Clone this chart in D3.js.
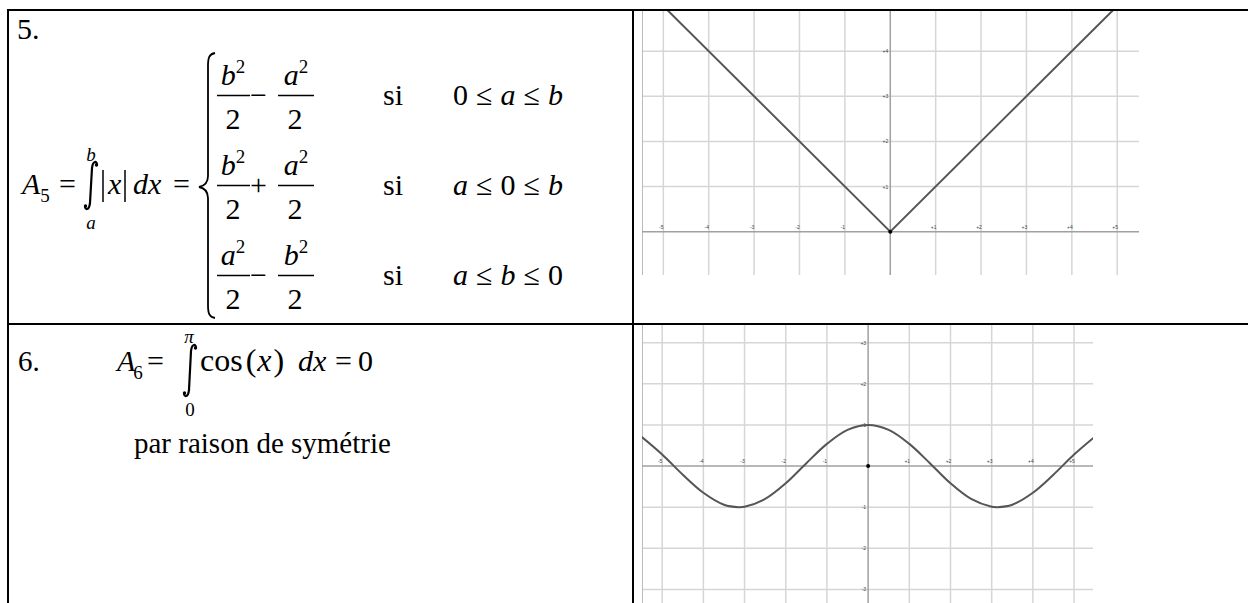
<!DOCTYPE html>
<html>
<head>
<meta charset="utf-8">
<script src="https://cdn.jsdelivr.net/npm/d3@7"></script>
<style>
  body { margin: 0; background: #fff; }
  text { font-family: "Liberation Serif", "Times New Roman", serif; fill: #000; }
  .it { font-style: italic; }
  .tick { font-family: "Liberation Sans", Arial, sans-serif; font-size: 5px; fill: #444; }
</style>
</head>
<body>
<div id="page"></div>
<script>
// ---- data ----
// cases of the piecewise formula (row 5)
let arrCaseNumA = ["b", "b", "a"];
let arrCaseNumB = ["a", "a", "b"];
let arrCaseOp = ["\u2212", "+", "\u2212"];
let arrCaseCond = [["0", "\u2264", "a", "\u2264", "b"], ["a", "\u2264", "0", "\u2264", "b"], ["a", "\u2264", "b", "\u2264", "0"]];

// graph 1 : y = |x|
let arrAbsX = [-5.5, 0, 5.5];
let arrAbsY = [5.5, 0, 5.5];
let arrAbsXTicks = [-5, -4, -3, -2, -1, 1, 2, 3, 4, 5];
let arrAbsYTicks = [1, 2, 3, 4];

// graph 2 : y = cos(x)
let arrCosX = [-5.5, -5, -4.5, -4, -3.5, -3.14, -3, -2.5, -2, -1.5, -1, -0.5, 0, 0.5, 1, 1.5, 2, 2.5, 3, 3.14, 3.5, 4, 4.5, 5, 5.5];
let arrCosY = [0.71, 0.28, -0.21, -0.65, -0.94, -1.0, -0.99, -0.8, -0.42, 0.07, 0.54, 0.88, 1.0, 0.88, 0.54, 0.07, -0.42, -0.8, -0.99, -1.0, -0.94, -0.65, -0.21, 0.28, 0.71];
let arrCosXTicks = [-5, -4, -3, -2, -1, 1, 2, 3, 4, 5];
let arrCosYTicks = [-3, -2, -1, 1, 2, 3];

// ---- page ----
let intTotalWid = 1248;
let intTotalHgt = 603;

let svg = d3.select("#page")
  .append("svg")
  .attr("width", intTotalWid)
  .attr("height", intTotalHgt);

svg.append("rect").attr("width", intTotalWid).attr("height", intTotalHgt).attr("fill", "#fff");

// helper : integral sign drawn as a path
function fnIntegral(g, cx, top, bot) {
  g.append("path")
    .attr("d", `M${cx + 6},${top + 4} C${cx + 6},${top} ${cx + 2},${top - 1} ${cx + 1},${top + 7} L${cx - 1},${bot - 7} C${cx - 2},${bot + 1} ${cx - 6},${bot} ${cx - 6},${bot - 4}`)
    .attr("fill", "none").attr("stroke", "#000").attr("stroke-width", 2.2);
  g.append("circle").attr("cx", cx + 5.5).attr("cy", top + 4).attr("r", 1.7);
  g.append("circle").attr("cx", cx - 5.5).attr("cy", bot - 4).attr("r", 1.7);
}

// helper : a letter with a superscript 2
function fnSquare(g, x, y, letter) {
  let t = g.append("text").attr("x", x).attr("y", y).attr("text-anchor", "middle").attr("font-size", 30);
  t.append("tspan").attr("class", "it").text(letter);
  t.append("tspan").attr("font-size", 19).attr("dy", -12).text("2");
}

// 1) left column, row 5
let gL = svg.append("g");
gL.append("text").attr("x", 17).attr("y", 39).attr("font-size", 30).text("5.");

let tA5 = gL.append("text").attr("x", 22).attr("y", 194).attr("font-size", 30);
tA5.append("tspan").attr("class", "it").text("A");
tA5.append("tspan").attr("font-size", 19).attr("dy", 8).attr("dx", 0).text("5");
gL.append("text").attr("x", 59).attr("y", 194).attr("font-size", 30).text("=");

fnIntegral(gL, 91, 161, 210);
gL.append("text").attr("class", "it").attr("x", 91).attr("y", 161).attr("font-size", 19).attr("text-anchor", "middle").text("b");
gL.append("text").attr("class", "it").attr("x", 91).attr("y", 229).attr("font-size", 19).attr("text-anchor", "middle").text("a");

gL.append("line").attr("x1", 103).attr("x2", 103).attr("y1", 170).attr("y2", 202).attr("stroke", "#000").attr("stroke-width", 1.5);
gL.append("line").attr("x1", 125).attr("x2", 125).attr("y1", 170).attr("y2", 202).attr("stroke", "#000").attr("stroke-width", 1.5);
gL.append("text").attr("class", "it").attr("x", 108).attr("y", 194).attr("font-size", 30).text("x");
gL.append("text").attr("class", "it").attr("x", 133).attr("y", 194).attr("font-size", 30).text("dx");
gL.append("text").attr("x", 173).attr("y", 194).attr("font-size", 30).text("=");

// brace
gL.append("path")
  .attr("d", "M215,53 C209,54 208,58 208,66 L208,176 C208,183 204,186 199,187 C204,188 208,191 208,198 L208,305 C208,313 209,317 215,318")
  .attr("fill", "none").attr("stroke", "#000").attr("stroke-width", 1.8);

// cases
let fnRowY = d3.scalePoint().domain(d3.range(arrCaseOp.length)).range([95.5, 275.5]);
arrCaseOp.forEach((op, i) => {
  let yBar = fnRowY(i);
  fnSquare(gL, 233, yBar - 10.5, arrCaseNumA[i]);
  fnSquare(gL, 296, yBar - 10.5, arrCaseNumB[i]);
  gL.append("line").attr("x1", 217).attr("x2", 250).attr("y1", yBar).attr("y2", yBar).attr("stroke", "#000").attr("stroke-width", 1.5);
  gL.append("line").attr("x1", 278).attr("x2", 314).attr("y1", yBar).attr("y2", yBar).attr("stroke", "#000").attr("stroke-width", 1.5);
  gL.append("text").attr("x", 233).attr("y", yBar + 33).attr("font-size", 30).attr("text-anchor", "middle").text("2");
  gL.append("text").attr("x", 295).attr("y", yBar + 33).attr("font-size", 30).attr("text-anchor", "middle").text("2");
  gL.append("text").attr("x", 258.5).attr("y", yBar + 9).attr("font-size", 30).attr("text-anchor", "middle").text(op);
  gL.append("text").attr("x", 383).attr("y", yBar + 9).attr("font-size", 30).text("si");
  let tc = gL.append("text").attr("x", 453).attr("y", yBar + 9).attr("font-size", 30);
  arrCaseCond[i].forEach((s, k) => {
    tc.append("tspan")
      .attr("class", /[ab]/.test(s) ? "it" : null)
      .attr("dx", k ? 8 : 0)
      .text(s);
  });
});

// 2) left column, row 6
let intRow6 = 371;
gL.append("text").attr("x", 18).attr("y", intRow6).attr("font-size", 29).text("6.");
let tA6 = gL.append("text").attr("x", 117).attr("y", intRow6).attr("font-size", 30);
tA6.append("tspan").attr("class", "it").text("A");
tA6.append("tspan").attr("font-size", 19).attr("dy", 8).attr("dx", -2).text("6");
gL.append("text").attr("x", 147).attr("y", intRow6).attr("font-size", 30).text("=");
fnIntegral(gL, 190, 344, 397);
gL.append("text").attr("class", "it").attr("x", 189).attr("y", 343).attr("font-size", 19).attr("text-anchor", "middle").text("\u03c0");
gL.append("text").attr("x", 190).attr("y", 416).attr("font-size", 19).attr("text-anchor", "middle").text("0");
let tCos = gL.append("text").attr("x", 200).attr("y", intRow6).attr("font-size", 32);
tCos.append("tspan").text("cos");
tCos.append("tspan").attr("dx", 3).text("(");
tCos.append("tspan").attr("class", "it").attr("dx", 1).text("x");
tCos.append("tspan").attr("dx", 2).text(")");
gL.append("text").attr("class", "it").attr("x", 298).attr("y", intRow6).attr("font-size", 30).text("dx");
gL.append("text").attr("x", 335).attr("y", intRow6).attr("font-size", 30).text("=");
gL.append("text").attr("x", 358).attr("y", intRow6).attr("font-size", 30).text("0");
gL.append("text").attr("x", 134).attr("y", 453).attr("font-size", 29).text("par raison de symétrie");

// 3) graph helper
function fnGraph(id, x0, x1, y0, y1, xDom, yDom, xTicks, yTicks, xs, ys, curve) {
  let fnX = d3.scaleLinear().domain(xDom).range([x0, x1]);
  let fnY = d3.scaleLinear().domain(yDom).range([y1, y0]);
  svg.append("clipPath").attr("id", id).append("rect")
    .attr("x", x0).attr("y", y0).attr("width", x1 - x0).attr("height", y1 - y0);
  let g = svg.append("g").attr("clip-path", `url(#${id})`);

  // grid
  g.selectAll(".vgrid").data(xTicks).enter().append("line")
    .attr("x1", d => fnX(d)).attr("x2", d => fnX(d)).attr("y1", y0).attr("y2", y1)
    .attr("stroke", "#d6d6d6").attr("stroke-width", 1.5);
  g.selectAll(".hgrid").data(yTicks).enter().append("line")
    .attr("x1", x0).attr("x2", x1).attr("y1", d => fnY(d)).attr("y2", d => fnY(d))
    .attr("stroke", "#d6d6d6").attr("stroke-width", 1.5);
  // left edge of the picture
  g.append("line").attr("x1", x0 + 0.5).attr("x2", x0 + 0.5).attr("y1", y0).attr("y2", y1)
    .attr("stroke", "#bbb").attr("stroke-width", 1);

  // axes
  g.append("line").attr("x1", x0).attr("x2", x1).attr("y1", fnY(0)).attr("y2", fnY(0))
    .attr("stroke", "#a0a0a0").attr("stroke-width", 1.5);
  g.append("line").attr("x1", fnX(0)).attr("x2", fnX(0)).attr("y1", y0).attr("y2", y1)
    .attr("stroke", "#a0a0a0").attr("stroke-width", 1.5);

  // tick labels
  g.selectAll(".xl").data(xTicks).enter().append("text").attr("class", "tick")
    .attr("x", d => fnX(d) - 2).attr("y", fnY(0) - 3).attr("text-anchor", "middle")
    .text(d => d > 0 ? "+" + d : "-" + Math.abs(d));
  g.selectAll(".yl").data(yTicks).enter().append("text").attr("class", "tick")
    .attr("x", fnX(0) - 2).attr("y", d => fnY(d) + 2).attr("text-anchor", "end")
    .text(d => d > 0 ? "+" + d : "-" + Math.abs(d));

  // curve
  let arrPts = xs.map((v, i) => [v, ys[i]]);
  g.append("path").datum(arrPts)
    .attr("d", d3.line().x(d => fnX(d[0])).y(d => fnY(d[1])).curve(curve))
    .attr("fill", "none").attr("stroke", "#555").attr("stroke-width", 2);

  g.append("circle").attr("cx", fnX(0)).attr("cy", fnY(0)).attr("r", 2).attr("fill", "#000");
}

fnGraph("clipAbs", 642, 1139, 11, 275, [-5.47, 5.48], [-0.96, 4.89],
  arrAbsXTicks, arrAbsYTicks, arrAbsX, arrAbsY, d3.curveLinear);
fnGraph("clipCos", 642, 1093, 325, 603, [-5.49, 5.46], [-3.33, 3.43],
  arrCosXTicks, arrCosYTicks, arrCosX, arrCosY, d3.curveCatmullRom);

// 4) table rules
let gT = svg.append("g").attr("stroke", "#000").attr("stroke-width", 2);
gT.append("line").attr("x1", 7).attr("x2", intTotalWid).attr("y1", 10).attr("y2", 10);
gT.append("line").attr("x1", 7).attr("x2", intTotalWid).attr("y1", 324).attr("y2", 324);
gT.append("line").attr("x1", 8).attr("x2", 8).attr("y1", 9).attr("y2", intTotalHgt);
gT.append("line").attr("x1", 633).attr("x2", 633).attr("y1", 9).attr("y2", intTotalHgt);
</script>
</body>
</html>
